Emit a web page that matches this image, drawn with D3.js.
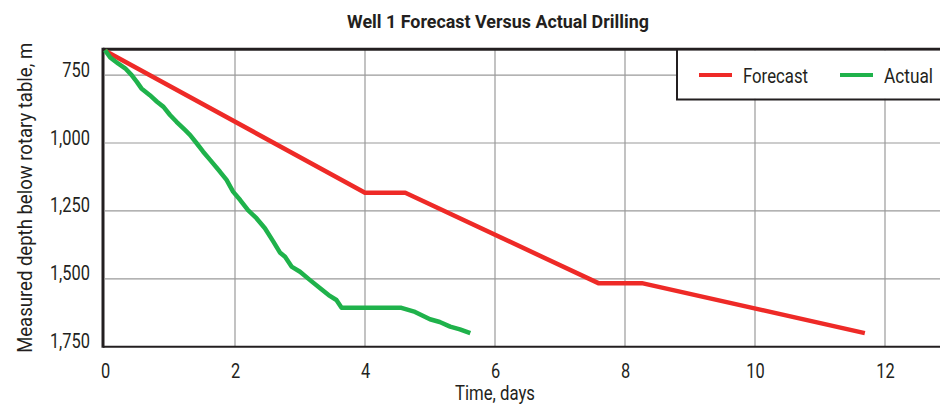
<!DOCTYPE html>
<html lang="en">
<head>
  <meta charset="UTF-8">
  <title>Well 1 Forecast Versus Actual Drilling</title>
  <script src="https://d3js.org/d3.v7.min.js"></script>
  <style>
    body {
      margin: 0;
      padding: 0;
      background: #fff;
      font-family: Roboto, "DejaVu Sans", sans-serif;
    }
    .tick text {
      font-family: Roboto, "DejaVu Sans", sans-serif;
      font-size: 20px;
      fill: #231f20;
    }
    .grid line {
      stroke: #9a9a9a;
      stroke-width: 1.2;
    }
    .title {
      font-size: 19px;
      font-weight: bold;
      fill: #231f20;
    }
    .label {
      font-size: 20px;
      fill: #231f20;
    }
  </style>
</head>
<body>
  <div id="chart"></div>
  <script>
    const width = 940;
    const height = 404;

    // Forecast (days, metres)
    const forecastDays  = [0, 4.0, 4.62, 7.59, 8.26, 11.69];
    const forecastDepth = [660, 1183, 1183, 1516, 1516, 1700];

    // Actual (days, metres)
    const actualDays = [0, 0.03, 0.08, 0.20, 0.31, 0.41, 0.49, 0.56, 0.69, 0.80, 0.90, 1.00,
      1.10, 1.23, 1.31, 1.41, 1.51, 1.62, 1.77, 1.87, 1.97, 2.08, 2.20, 2.33, 2.46,
      2.59, 2.69, 2.77, 2.87, 3.00, 3.15, 3.31, 3.44, 3.56, 3.64, 4.56, 4.77, 5.00,
      5.15, 5.31, 5.46, 5.62];
    const actualDepth = [658, 668, 685, 707, 725, 750, 775, 799, 824, 848, 867, 897,
      922, 952, 971, 1001, 1032, 1063, 1106, 1136, 1179, 1210, 1247, 1277, 1314,
      1363, 1403, 1419, 1455, 1474, 1504, 1535, 1560, 1578, 1607, 1607, 1622, 1649,
      1659, 1676, 1686, 1700];

    const xTicks = [0, 2, 4, 6, 8, 10, 12];
    const yTicks = [750, 1000, 1250, 1500, 1750];

    const forecast = forecastDays.map((d, i) => ({ t: d, depth: forecastDepth[i] }));
    const actual = actualDays.map((d, i) => ({ t: d, depth: actualDepth[i] }));

    const x = d3.scaleLinear().domain([0, 13]).range([105, 950]);
    const y = d3.scaleLinear().domain([655, 1750]).range([49.3, 346.7]);

    // squeeze text to look like a condensed face
    function condense(sel, k) {
      sel.each(function () {
        const len = this.getComputedTextLength();
        d3.select(this).attr("textLength", len * k).attr("lengthAdjust", "spacingAndGlyphs");
      });
    }
    function fitTo(sel, w) {
      sel.attr("textLength", w).attr("lengthAdjust", "spacingAndGlyphs");
    }

    const svg = d3.select("#chart").append("svg")
      .attr("width", width)
      .attr("height", height);

    // grid lines
    svg.append("g").attr("class", "grid")
      .selectAll("line")
      .data(yTicks.slice(0, -1))
      .join("line")
      .attr("x1", x(0)).attr("x2", width)
      .attr("y1", d => y(d)).attr("y2", d => y(d));

    svg.append("g").attr("class", "grid")
      .selectAll("line")
      .data(xTicks.slice(1))
      .join("line")
      .attr("x1", d => x(d)).attr("x2", d => x(d))
      .attr("y1", y(655)).attr("y2", y(1750));

    // axes
    const xAxis = svg.append("g")
      .attr("transform", `translate(0,${y(1750)})`)
      .call(d3.axisBottom(x).tickValues(xTicks).tickSize(0).tickPadding(12))
      .call(g => g.select(".domain").remove());
    xAxis.selectAll("text").attr("y", 31).attr("dy", 0);
    condense(xAxis.selectAll("text"), 0.82);

    const yAxis = svg.append("g")
      .attr("transform", `translate(90,0)`)
      .call(d3.axisLeft(y).tickValues(yTicks).tickFormat(d3.format(",")).tickSize(0).tickPadding(0))
      .call(g => g.select(".domain").remove());
    yAxis.selectAll("text").attr("x", 0).attr("dy", 1);
    condense(yAxis.selectAll("text"), 0.82);

    // frame lines
    svg.append("line")
      .attr("x1", x(0) - 2).attr("x2", width)
      .attr("y1", y(655)).attr("y2", y(655))
      .attr("stroke", "#231f20").attr("stroke-width", 3);
    svg.append("line")
      .attr("x1", x(0) - 2).attr("x2", width)
      .attr("y1", y(1750)).attr("y2", y(1750))
      .attr("stroke", "#231f20").attr("stroke-width", 2);
    svg.append("line")
      .attr("x1", x(0) - 2).attr("x2", x(0) - 2)
      .attr("y1", y(655) - 1.5).attr("y2", y(1750) + 1)
      .attr("stroke", "#231f20").attr("stroke-width", 3);

    const line = d3.line().x(d => x(d.t)).y(d => y(d.depth));

    svg.append("path")
      .datum(forecast)
      .attr("fill", "none")
      .attr("stroke", "#ee2a27")
      .attr("stroke-width", 4.5)
      .attr("stroke-linejoin", "round")
      .attr("d", line);

    svg.append("path")
      .datum(actual)
      .attr("fill", "none")
      .attr("stroke", "#1fb24b")
      .attr("stroke-width", 4.5)
      .attr("stroke-linejoin", "round")
      .attr("d", line);

    // legend
    const legend = svg.append("g");
    legend.append("rect")
      .attr("x", 677).attr("y", y(655) + 1.5)
      .attr("width", 270).attr("height", 48)
      .attr("fill", "#fff");
    legend.append("path")
      .attr("d", `M677,${y(655)} V99.5 H${width}`)
      .attr("fill", "none")
      .attr("stroke", "#231f20")
      .attr("stroke-width", 2);

    const items = [
      { name: "Forecast", color: "#ee2a27", x0: 699, w: 65 },
      { name: "Actual", color: "#1fb24b", x0: 840, w: 49 }
    ];
    items.forEach(it => {
      legend.append("line")
        .attr("x1", it.x0).attr("x2", it.x0 + 33)
        .attr("y1", 75).attr("y2", 75)
        .attr("stroke", it.color).attr("stroke-width", 4);
      legend.append("text")
        .attr("class", "label")
        .attr("x", it.x0 + 44).attr("y", 83)
        .text(it.name)
        .call(fitTo, it.w);
    });

    // titles
    svg.append("text")
      .attr("class", "title")
      .attr("x", 498).attr("y", 28)
      .attr("text-anchor", "middle")
      .text("Well 1 Forecast Versus Actual Drilling")
      .call(fitTo, 302);

    svg.append("text")
      .attr("class", "label")
      .attr("x", 495).attr("y", 400)
      .attr("text-anchor", "middle")
      .text("Time, days")
      .call(fitTo, 80);

    svg.append("text")
      .attr("class", "label")
      .attr("transform", `translate(32,${y(1202)}) rotate(-90)`)
      .attr("text-anchor", "middle")
      .text("Measured depth below rotary table, m")
      .call(fitTo, 310);
  </script>
</body>
</html>
